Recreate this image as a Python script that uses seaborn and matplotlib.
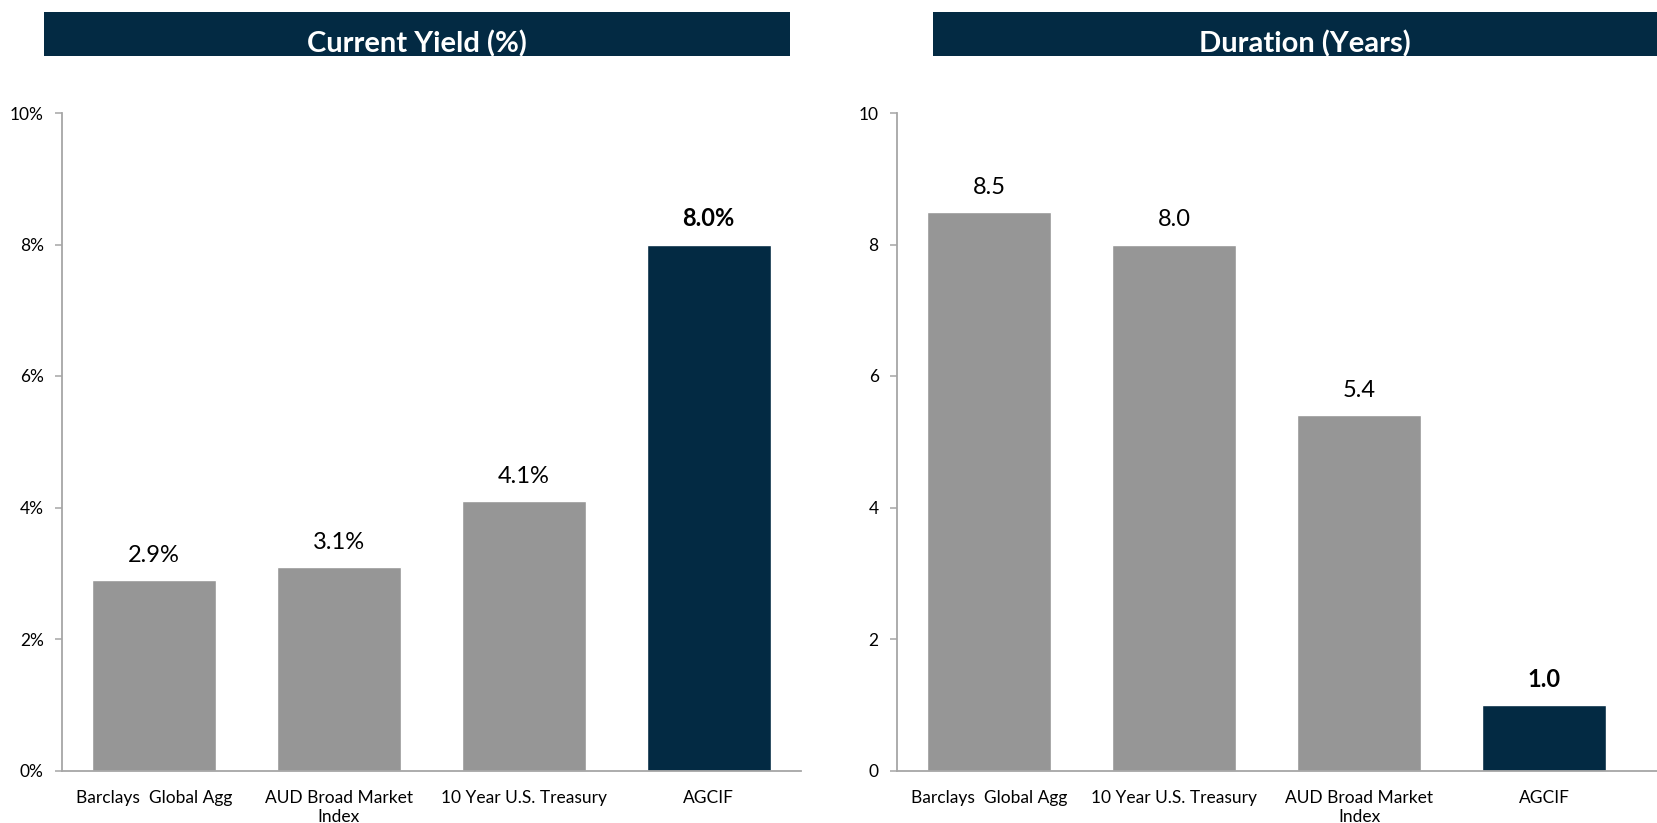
import matplotlib
matplotlib.use("Agg")
import matplotlib.pyplot as plt
import seaborn as sns
from matplotlib.patches import Rectangle

# Data
yield_cats = ["Barclays  Global Agg", "AUD Broad Market\nIndex", "10 Year U.S. Treasury", "AGCIF"]
yield_vals = [2.9, 3.1, 4.1, 8.0]
yield_labels = ["2.9%", "3.1%", "4.1%", "8.0%"]
yield_ticks = [0, 2, 4, 6, 8, 10]
yield_ticklabels = ["0%", "2%", "4%", "6%", "8%", "10%"]

dur_cats = ["Barclays  Global Agg", "10 Year U.S. Treasury", "AUD Broad Market\nIndex", "AGCIF"]
dur_vals = [8.5, 8.0, 5.4, 1.0]
dur_labels = ["8.5", "8.0", "5.4", "1.0"]
dur_ticks = [0, 2, 4, 6, 8, 10]
dur_ticklabels = ["0", "2", "4", "6", "8", "10"]

NAVY = "#032a43"
GRAY = "#969696"
AXIS = "#a6a6a6"

sns.set_theme(style="white")
plt.rcParams["font.family"] = ["Lato", "DejaVu Sans"]

W, H = 1657, 823
fig = plt.figure(figsize=(W / 100, H / 100), dpi=100)


def px_axes(x0, x1, ytop, ybot):
    return fig.add_axes([x0 / W, (H - ybot) / H, (x1 - x0) / W, (ybot - ytop) / H])


def draw_panel(ax, cats, vals, labels, ticks, ticklabels, xmax, title, title_x, bar_x0, bar_x1):
    colors = [NAVY if c == "AGCIF" else GRAY for c in cats]
    sns.barplot(x=cats, y=vals, hue=cats, palette=colors, legend=False,
                width=0.67, saturation=1, ax=ax, order=cats, hue_order=cats)
    ax.set_xlim(-0.5, xmax)
    ax.set_ylim(0, 10)
    ax.set_yticks(ticks)
    ax.set_yticklabels(ticklabels)
    ax.set_xlabel("")
    ax.set_ylabel("")
    for side in ["top", "right"]:
        ax.spines[side].set_visible(False)
    for side in ["left", "bottom"]:
        ax.spines[side].set_color(AXIS)
        ax.spines[side].set_linewidth(1.3)
    ax.tick_params(axis="y", left=True, length=5, width=1.1, color=AXIS,
                   labelsize=12.5, pad=8, labelcolor="black")
    ax.tick_params(axis="x", bottom=False, labelsize=12.5, pad=8, labelcolor="black")
    for t in ax.get_xticklabels():
        t.set_linespacing(1.2)
    for i, (v, lab, c) in enumerate(zip(vals, labels, cats)):
        ax.annotate(lab, (i, v), xytext=(0, 13), textcoords="offset points",
                    ha="center", va="baseline", fontsize=17,
                    fontweight="bold" if c == "AGCIF" else "normal", color="black")
    # Title banner
    fig.patches.append(Rectangle((bar_x0 / W, (H - 56) / H), (bar_x1 - bar_x0) / W, 44 / H,
                                 transform=fig.transFigure, facecolor=NAVY,
                                 edgecolor="none", zorder=0))
    fig.text(title_x / W, (H - 52) / H, title, ha="center", va="baseline",
             fontsize=21, fontweight="bold", color="white")


ax1 = px_axes(61.7, 801, 113, 770.5)
draw_panel(ax1, yield_cats, yield_vals, yield_labels, yield_ticks, yield_ticklabels,
           3.5, "Current Yield (%)", 417, 44, 790)

ax2 = px_axes(896.7, 1657, 113, 770.5)
draw_panel(ax2, dur_cats, dur_vals, dur_labels, dur_ticks, dur_ticklabels,
           3.61, "Duration (Years)", 1305, 933, 1657)

fig.savefig("out.png", dpi=100)
